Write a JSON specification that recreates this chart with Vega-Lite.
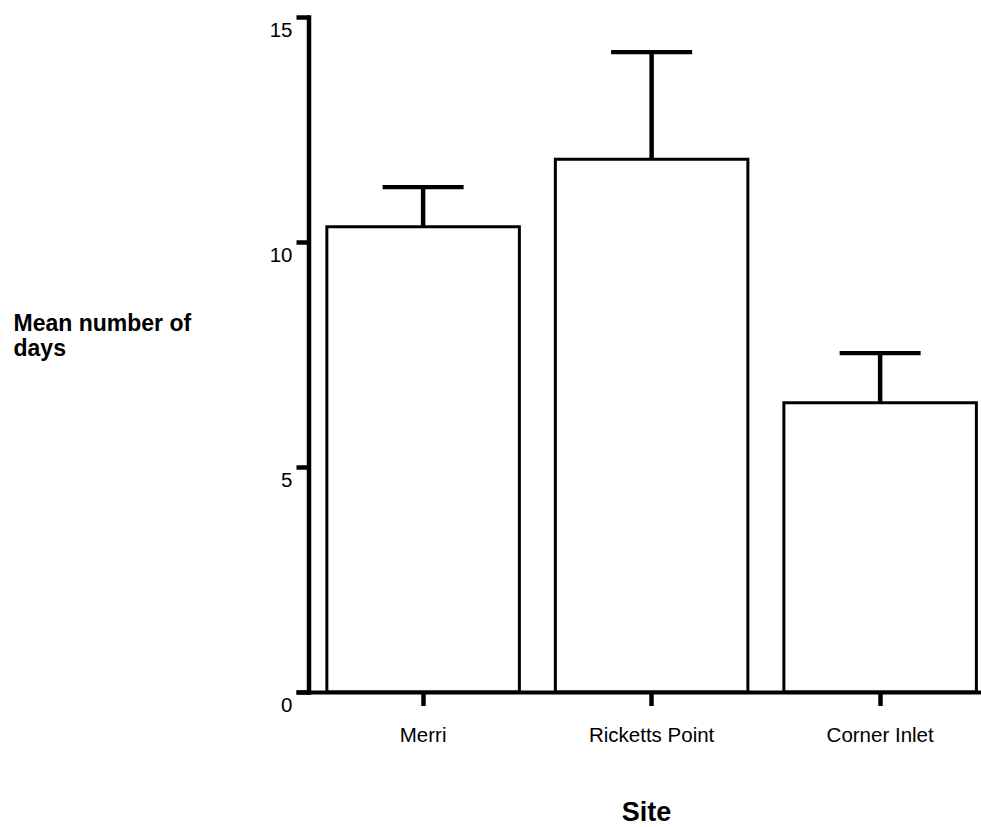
{
  "$schema": "https://vega.github.io/schema/vega-lite/v6.json",
  "width": 685,
  "height": 675,
  "autosize": {"type": "none"},
  "padding": {"left": 296, "top": 17, "right": 0, "bottom": 135},
  "background": "white",
  "config": {"view": {"stroke": null}, "font": "Liberation Sans"},
  "data": {
    "values": [
      {"site": "Merri", "mean": 10.34, "upper": 11.22},
      {"site": "Ricketts Point", "mean": 11.84, "upper": 14.22},
      {"site": "Corner Inlet", "mean": 6.43, "upper": 7.53}
    ]
  },
  "encoding": {
    "x": {
      "field": "site",
      "type": "nominal",
      "sort": null,
      "scale": {"paddingInner": 0.1575, "paddingOuter": 0.0776, "align": 0.87},
      "axis": {
        "title": "Site",
        "labelAngle": 0,
        "grid": false,
        "domainWidth": 4,
        "domainColor": "black",
        "tickWidth": 4.5,
        "tickSize": 13.5,
        "tickColor": "black",
        "labelFontSize": 20.5,
        "labelColor": "black",
        "labelPadding": 20,
        "labelBaseline": "top",
        "titleFontSize": 27,
        "titleFontWeight": "bold",
        "titleColor": "black",
        "titleBaseline": "alphabetic",
        "titleX": 350,
        "titleY": 128,
        "zindex": 1
      }
    }
  },
  "layer": [
    {
      "mark": {"type": "bar", "fill": "white", "stroke": "black", "strokeWidth": 3},
      "encoding": {
        "y": {
          "field": "mean",
          "type": "quantitative",
          "scale": {"domain": [0, 15], "nice": false, "zero": true},
          "axis": {
            "title": ["Mean number of", "days"],
            "values": [0, 5, 10, 15],
            "grid": false,
            "domainWidth": 4.5,
            "domainColor": "black",
            "domainCap": "square",
            "tickWidth": 4.5,
            "tickSize": 12.5,
            "tickColor": "black",
            "labelFontSize": 20.5,
            "labelColor": "black",
            "labelPadding": 4,
            "labelOffset": 13,
            "offset": -12.5,
            "titleAngle": 0,
            "titleAlign": "left",
            "titleBaseline": "alphabetic",
            "titleX": -295.5,
            "titleY": 313,
            "titleFontSize": 23,
            "titleFontWeight": "bold",
            "titleColor": "black",
            "titleLineHeight": 25,
            "zindex": 1
          }
        }
      }
    },
    {
      "mark": {"type": "rule", "strokeWidth": 4.5, "color": "black"},
      "encoding": {
        "y": {"field": "mean", "type": "quantitative"},
        "y2": {"field": "upper"}
      }
    },
    {
      "mark": {"type": "tick", "color": "black", "opacity": 1, "thickness": 4.3, "size": 81},
      "encoding": {
        "y": {"field": "upper", "type": "quantitative"}
      }
    }
  ]
}
